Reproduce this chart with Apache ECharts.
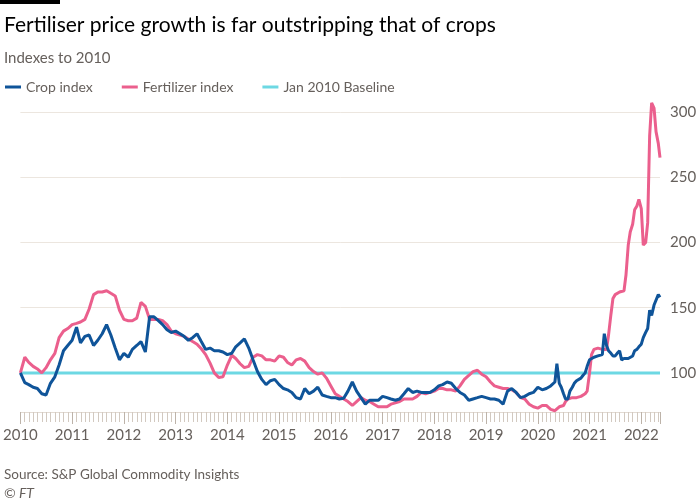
<!DOCTYPE html>
<html>
<head>
<meta charset="utf-8">
<script src="https://cdn.jsdelivr.net/npm/echarts@6/dist/echarts.min.js"></script>
<style>
html,body{margin:0;padding:0;background:#fff;}
#chart{width:700px;height:500px;}
</style>
</head>
<body>
<div id="chart"></div>
<script>
// Monthly readings, Jan 2010 .. Apr 2020 (first of month)
const cropMonthly = [
  100, 92.5, 91, 89, 88, 84, 83, 92, 97, 106, 117, 121,
  125, 135, 123, 128, 129, 121, 125, 130, 137, 129, 119, 110,
  115, 112, 118, 121, 124, 116, 143, 143, 140, 137, 133, 131,
  132, 130, 128, 125, 127, 130, 124, 118, 119, 117, 117, 116,
  114, 115, 120, 123, 126, 119, 110, 101, 95, 91, 94, 95,
  91, 88, 87, 85, 81, 80, 88, 84, 86, 89, 83, 82,
  81, 81, 80, 80.5, 86, 93, 86, 81, 76, 79, 79, 79,
  82, 81, 80, 79, 80, 84, 88, 85, 86, 85, 85, 85,
  87, 90, 91, 93, 92, 88, 85, 83, 79, 80, 81, 82,
  81, 80, 80, 79, 76, 86, 88, 85, 81, 82, 84, 85,
  89, 87, 88, 90
];
const fertMonthly = [
  100, 112, 108, 105, 103, 100, 104, 110, 115, 127, 132, 134,
  137, 138, 139, 141, 149, 160, 162, 162, 163, 161, 159, 148,
  141, 140, 140, 142, 154, 151, 141, 141, 141, 140, 137, 132,
  130, 129, 128, 126, 124, 122, 118.5, 114, 107.5, 100, 96.5, 97,
  106, 113.5, 111, 107, 104, 105, 112, 114, 113, 110, 110, 109,
  113, 112, 108, 106, 110, 111, 109, 104, 101, 99, 100, 96,
  90, 84, 82, 80, 78, 75, 78, 81, 79, 78, 76, 74,
  74, 74, 76, 77, 78, 80, 80, 80, 82, 85, 84, 85,
  86, 88, 88, 87, 87, 86, 90, 95, 98, 101, 102, 99,
  97, 93, 90, 89, 88, 88, 87, 85, 81, 80, 76, 74,
  73, 75, 75, 72
];
// Semi-monthly readings (1st and 15th), May 2020 .. May 2022, then last point
const cropSemi = [
  93, 107, 92, 89, 84, 80, 80, 86,
  89, 92, 94, 95, 96, 98, 100, 105,
  110, 111, 112, 112, 113, 113, 114, 130,
  121, 117, 115, 113, 113, 115, 117, 110,
  111, 111, 111, 112, 113, 117, 118, 120,
  122, 127, 131, 134, 148, 144, 152, 153,
  160, 158
];
const fertSemi = [
  71, 71, 74, 75, 75, 78, 80, 81,
  81, 81, 81, 81, 82, 83, 84, 86,
  100, 114, 118, 119, 119, 118, 118, 118,
  118, 129, 145, 157, 160, 161, 162, 162,
  163, 175, 198, 208, 214, 225, 228, 233,
  226, 198, 200, 215, 282, 307, 303, 285,
  276, 265
];
const lastDate = '2022-05-13';
const baselineValue = 100;
const yTickValues = [100, 150, 200, 250, 300];
const gridValues = [150, 200, 250, 300];
const firstYear = 2010;

// build date categories
function pad(n){return (n<10?'0':'')+n;}
const dates = [];
for (let i = 0; i < cropMonthly.length; i++) {
  const y = firstYear + Math.floor(i/12), m = i%12 + 1;
  dates.push(y + '-' + pad(m) + '-01');
}
const semiStart = cropMonthly.length;
for (let k = 0; k < cropSemi.length - 1; k++) {
  const mi = semiStart + Math.floor(k/2);
  const y = firstYear + Math.floor(mi/12), m = mi%12 + 1;
  dates.push(y + '-' + pad(m) + '-' + (k%2 ? '15' : '01'));
}
dates.push(lastDate);
const cropValues = cropMonthly.concat(cropSemi);
const fertValues = fertMonthly.concat(fertSemi);

// date string -> decimal year (position handled by the value axis)
function decYear(s){
  const p = s.split('-').map(Number);
  const start = Date.UTC(p[0],0,1), end = Date.UTC(p[0]+1,0,1);
  return p[0] + (Date.UTC(p[0],p[1]-1,p[2]) - start)/(end-start);
}
const xs = dates.map(decYear);
const xMax = decYear(lastDate);

const FONT = 'Lato, "Open Sans", sans-serif';
const chart = echarts.init(document.getElementById('chart'), null, {renderer:'canvas'});
const option = {
  animation: false,
  textStyle: {fontFamily: FONT},
  graphic: [{type:'rect', left:0, top:0, shape:{width:60, height:4}, style:{fill:'#000'}}],
  title: [
    {text:'Fertiliser price growth is far outstripping that of crops', left:-1, top:10,
     textStyle:{fontFamily:FONT, fontSize:21, fontWeight:'normal', color:'#000'}},
    {text:'Indexes to 2010', left:-1, top:46,
     textStyle:{fontFamily:FONT, fontSize:15, fontWeight:'normal', color:'#66605c'}},
    {text:'Source: S&P Global Commodity Insights', left:-1, top:463,
     textStyle:{fontFamily:FONT, fontSize:13.5, fontWeight:'normal', color:'#66605c'}},
    {text:'© FT', left:-1, top:481,
     textStyle:{fontFamily:FONT, fontSize:14, fontWeight:'normal', fontStyle:'italic', color:'#66605c'}}
  ],
  legend: {
    left: 0, top: 75, icon: 'rect', itemWidth: 16, itemHeight: 3, itemGap: 29,
    data: ['Crop index', 'Fertilizer index', 'Jan 2010 Baseline'],
    textStyle: {fontFamily: FONT, fontSize: 14, color: '#66605c'}
  },
  grid: {left: 17, right: 40, top: 99, bottom: 88, containLabel: false},
  xAxis: {
    type: 'value', min: firstYear, max: xMax, interval: 1,
    axisLine: {show: true, lineStyle: {color: '#e2dad2', width: 1}},
    axisTick: {show: true, length: 12, lineStyle: {color: '#bdb3a9'}},
    minorTick: {show: true, splitNumber: 12, length: 10, lineStyle: {color: '#d2c9c0'}},
    splitLine: {show: false},
    axisLabel: {color: '#66605c', fontSize: 15, fontFamily: FONT, margin: 16,
      formatter: v => Number.isInteger(v) ? String(v) : ''}
  },
  yAxis: {
    type: 'value', position: 'right', min: 70, max: 310, interval: 10,
    axisLine: {show: false}, axisTick: {show: false}, splitLine: {show: false},
    axisLabel: {color: '#66605c', fontSize: 15, fontFamily: FONT, margin: 10,
      formatter: v => yTickValues.indexOf(v) >= 0 ? String(v) : ''}
  },
  series: [
    {name: 'Jan 2010 Baseline', type: 'line', showSymbol: false, silent: true, z: 2,
     data: [[firstYear, baselineValue], [xMax, baselineValue]],
     lineStyle: {color: '#6dd8e3', width: 3}, itemStyle: {color: '#6dd8e3'},
     markLine: {silent: true, z: 1, symbol: 'none', label: {show: false},
       lineStyle: {color: '#ece6df', width: 1, type: 'solid'},
       data: gridValues.map(v => ({yAxis: v}))}},
    {name: 'Fertilizer index', type: 'line', showSymbol: false, z: 3,
     data: xs.map((x, i) => [x, fertValues[i]]),
     lineStyle: {color: '#eb5f8d', width: 3}, itemStyle: {color: '#eb5f8d'}},
    {name: 'Crop index', type: 'line', showSymbol: false, z: 4,
     data: xs.map((x, i) => [x, cropValues[i]]),
     lineStyle: {color: '#0f5499', width: 3}, itemStyle: {color: '#0f5499'}}
  ]
};
chart.setOption(option);
</script>
</body>
</html>
